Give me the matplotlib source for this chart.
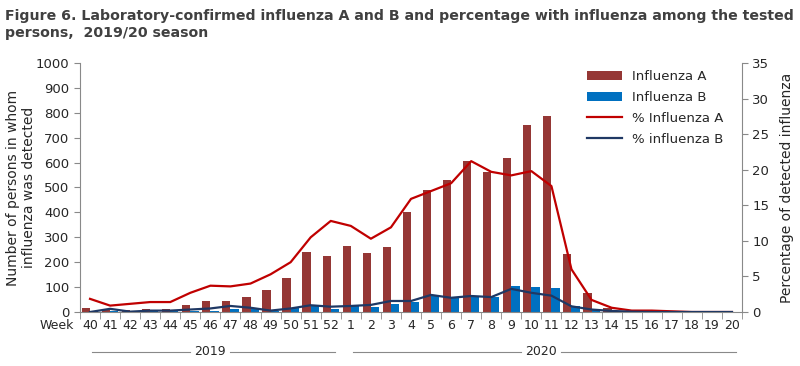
import matplotlib
matplotlib.use('Agg')
import matplotlib.pyplot as plt
import matplotlib.transforms as mtransforms
from matplotlib.lines import Line2D
import numpy as np

plt.rcParams['font.family'] = ['DejaVu Sans']

weeks = ['40', '41', '42', '43', '44', '45', '46', '47', '48', '49', '50', '51', '52',
         '1', '2', '3', '4', '5', '6', '7', '8', '9', '10', '11', '12', '13', '14',
         '15', '16', '17', '18', '19', '20']
flu_a = [15, 10, 8, 13, 13, 30, 45, 45, 62, 90, 138, 242, 226,
         266, 238, 262, 402, 490, 530, 607, 563, 619, 752, 787, 234, 78, 15,
         5, 3, 1, 0, 0, 0]
flu_b = [3, 5, 2, 3, 4, 5, 5, 13, 12, 5, 15, 26, 13,
         25, 22, 33, 42, 68, 60, 64, 62, 106, 101, 97, 24, 8, 3,
         1, 0, 0, 0, 0, 0]
pct_a = [1.85, 0.9, 1.15, 1.4, 1.4, 2.7, 3.7, 3.6, 4.0, 5.3, 7.0, 10.5, 12.8,
         12.1, 10.3, 11.9, 15.9, 17.0, 18.1, 21.2, 19.7, 19.2, 19.8, 17.7, 6.0, 1.7, 0.6,
         0.2, 0.2, 0.1, 0.0, 0.0, 0.0]
pct_b = [0.0, 0.45, 0.05, 0.2, 0.2, 0.35, 0.5, 0.85, 0.6, 0.2, 0.5, 0.95, 0.75,
         0.85, 1.0, 1.55, 1.55, 2.4, 2.0, 2.25, 2.1, 3.25, 2.7, 2.3, 0.8, 0.35, 0.15,
         0.05, 0.0, 0.0, 0.0, 0.0, 0.0]
years = ['2019', '2020']
year_weeks = [13, 20]

gray = '#898989'
txt = '#262626'
x = np.arange(len(weeks))
w = 0.41

fig = plt.figure(figsize=(8, 3.66), dpi=100)
ax = fig.add_axes([0.1, 0.1475, 0.8275, 0.6805])
ax2 = ax.twinx()

ax.bar(x - w / 2, flu_a, w, color='#953735', label='Influenza A', zorder=2)
ax.bar(x + w / 2, flu_b, w, color='#0070C0', label='Influenza B', zorder=2)
l1, = ax2.plot(x, pct_a, color='#C00000', lw=1.6, label='% Influenza A')
l2, = ax2.plot(x, pct_b, color='#1F3864', lw=1.6, label='% influenza B')

ax.set_xlim(-0.5, len(weeks) - 0.5)
ax.set_ylim(0, 1000)
ax2.set_ylim(0, 35)
ax.set_yticks(np.arange(0, 1001, 100))
ax2.set_yticks(np.arange(0, 36, 5))

for a in (ax, ax2):
    a.spines['top'].set_visible(False)
    for s in ['left', 'right', 'bottom']:
        a.spines[s].set_color(gray)
    a.tick_params(axis='y', colors=gray, labelcolor=txt, labelsize=9.5, length=4)
ax.spines['right'].set_visible(False)
ax2.spines['left'].set_visible(False)
ax2.spines['bottom'].set_visible(False)

ax.set_xticks(x)
ax.set_xticklabels(weeks, fontsize=9, color=txt)
ax.set_xticks(np.arange(-0.5, len(weeks), 1), minor=True)
ax.tick_params(axis='x', which='major', length=0, pad=5)
ax.tick_params(axis='x', which='minor', length=5, color=gray)

ax.set_ylabel('Number of persons in whom\ninfluenza was detected', fontsize=10, color=txt)
ax.yaxis.set_label_coords(-0.066, 0.5)
ax2.set_ylabel('Percentage of detected influenza', fontsize=10, color=txt)
ax2.yaxis.set_label_coords(1.057, 0.5)

trans = mtransforms.blended_transform_factory(ax.transData, ax.transAxes)
ax.annotate('Week', xy=(-0.5, 0), xycoords=trans, xytext=(-4, -5), textcoords='offset points',
            ha='right', va='top', fontsize=9, color=txt)

start = -0.5
for yr, n in zip(years, year_weeks):
    mid = start + n / 2
    ax.text(mid, -0.16, yr, transform=trans, ha='center', va='center', fontsize=9, color=txt)
    ax.add_line(Line2D([start + 0.6, mid - 1.0], [-0.16, -0.16], transform=trans,
                       color=gray, lw=0.8, clip_on=False))
    ax.add_line(Line2D([mid + 1.0, start + n - 0.3], [-0.16, -0.16], transform=trans,
                       color=gray, lw=0.8, clip_on=False))
    start += n

h1, lab1 = ax.get_legend_handles_labels()
ax2.legend(h1 + [l1, l2], lab1 + ['% Influenza A', '% influenza B'],
           loc='upper right', bbox_to_anchor=(0.99, 1.02), frameon=False, fontsize=9.5,
           handlelength=2.6, labelspacing=0.6, labelcolor=txt)

fig.text(0.006, 0.975, 'Figure 6. Laboratory-confirmed influenza A and B and percentage with influenza among the tested\npersons,  2019/20 season',
         ha='left', va='top', fontsize=10.2, fontweight='bold', color='#404040', linespacing=1.3)

fig.savefig('out.png', dpi=100)
